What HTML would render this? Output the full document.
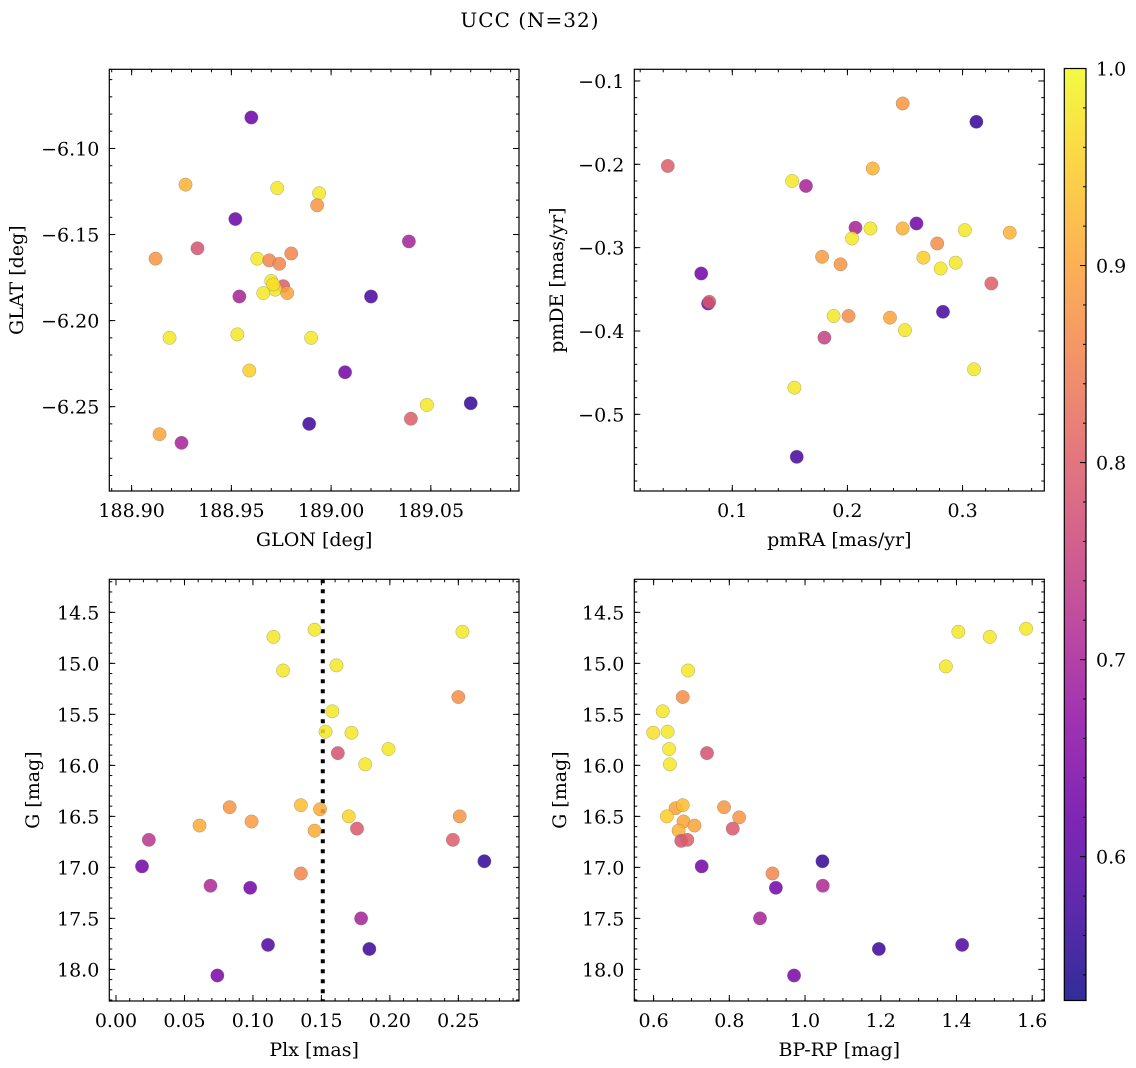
<!DOCTYPE html>
<html><head><meta charset="utf-8">
<style>
html,body{margin:0;padding:0;background:#fff;}
svg{display:block;font-family:"DejaVu Serif","Liberation Serif",serif;}
</style></head>
<body>
<svg id="fig" width="1136" height="1068" viewBox="0 0 1136 1068" xmlns="http://www.w3.org/2000/svg">
<text x="530" y="27" font-size="20" letter-spacing="1" text-anchor="middle">UCC (N=32)</text>
</svg>
<script>
// ---- data ----
const glon = [188.960,188.927,188.973,188.994,188.993,188.952,189.039,188.933,188.912,188.963,188.969,188.974,188.980,188.970,188.976,188.972,188.966,188.978,188.954,189.020,188.919,188.953,188.990,188.959,189.007,189.048,189.070,189.040,188.989,188.914,188.925,188.971];
const glat = [-6.082,-6.121,-6.123,-6.126,-6.133,-6.141,-6.154,-6.158,-6.164,-6.164,-6.165,-6.167,-6.161,-6.177,-6.180,-6.182,-6.184,-6.184,-6.186,-6.186,-6.210,-6.208,-6.210,-6.229,-6.230,-6.249,-6.248,-6.257,-6.260,-6.266,-6.271,-6.179];
const glonProb = [0.62,0.92,0.98,0.98,0.88,0.62,0.70,0.78,0.88,0.98,0.86,0.86,0.86,0.98,0.80,0.98,0.98,0.90,0.70,0.58,0.98,0.98,0.98,0.95,0.63,0.98,0.56,0.80,0.57,0.90,0.70,0.97];

const pmra = [0.044,0.152,0.164,0.222,0.248,0.312,0.207,0.220,0.204,0.248,0.260,0.302,0.341,0.278,0.266,0.281,0.294,0.178,0.194,0.073,0.079,0.080,0.188,0.201,0.237,0.250,0.283,0.180,0.310,0.154,0.325,0.156];
const pmde = [-0.202,-0.220,-0.226,-0.205,-0.127,-0.149,-0.276,-0.277,-0.289,-0.277,-0.271,-0.279,-0.282,-0.295,-0.312,-0.325,-0.318,-0.311,-0.320,-0.331,-0.367,-0.365,-0.382,-0.382,-0.384,-0.399,-0.377,-0.408,-0.446,-0.468,-0.343,-0.551];
const pmProb = [0.80,0.98,0.70,0.92,0.88,0.56,0.70,0.98,0.98,0.92,0.63,0.98,0.92,0.87,0.95,0.98,0.98,0.89,0.88,0.63,0.62,0.79,0.98,0.87,0.90,0.98,0.58,0.75,0.98,0.98,0.80,0.58];

const plx = [0.115,0.145,0.122,0.161,0.253,0.250,0.158,0.153,0.172,0.199,0.162,0.182,0.083,0.135,0.149,0.170,0.251,0.061,0.099,0.145,0.176,0.024,0.246,0.019,0.269,0.135,0.069,0.098,0.179,0.111,0.185,0.074];
const gPlx = [14.74,14.67,15.07,15.02,14.69,15.33,15.47,15.67,15.68,15.84,15.88,15.99,16.41,16.39,16.43,16.50,16.50,16.59,16.55,16.64,16.62,16.73,16.73,16.99,16.94,17.06,17.18,17.20,17.50,17.76,17.80,18.06];
const plxProb = [0.98,0.98,0.98,0.98,0.98,0.87,0.98,0.98,0.98,0.98,0.78,0.98,0.88,0.93,0.91,0.96,0.88,0.91,0.89,0.91,0.79,0.73,0.80,0.63,0.56,0.86,0.71,0.63,0.70,0.59,0.57,0.64];
const plxLine = [0.151];

const bprp = [1.584,1.405,1.488,1.372,0.691,0.677,0.624,0.599,0.637,0.641,0.741,0.643,0.658,0.677,0.786,0.635,0.826,0.679,0.708,0.666,0.809,0.673,0.689,0.727,1.046,0.914,0.923,1.047,0.881,1.415,1.195,0.971];
const gCmd = [14.66,14.69,14.74,15.03,15.07,15.33,15.47,15.68,15.67,15.84,15.88,15.99,16.42,16.39,16.41,16.50,16.51,16.55,16.59,16.64,16.62,16.74,16.73,16.99,16.94,17.06,17.20,17.18,17.50,17.76,17.80,18.06];
const cmdProb = [0.98,0.98,0.98,0.98,0.98,0.87,0.98,0.97,0.98,0.98,0.78,0.98,0.90,0.93,0.88,0.95,0.88,0.90,0.90,0.92,0.79,0.78,0.80,0.63,0.56,0.86,0.63,0.71,0.70,0.59,0.57,0.64];

const cbTicks = [0.6,0.7,0.8,0.9,1.0];
const cbRange = [0.527,1.0];

// ---- helpers ----
const NS = "http://www.w3.org/2000/svg";
const svg = document.getElementById('fig');
const FS = 19;
function mk(tag, attrs, parent){
  const e = document.createElementNS(NS, tag);
  for (const k in attrs) e.setAttribute(k, attrs[k]);
  (parent||svg).appendChild(e);
  return e;
}
const plasma = [[13,8,135],[65,4,157],[106,0,168],[143,13,164],[177,42,144],[204,71,120],[225,100,98],[242,132,75],[252,166,54],[252,206,37],[240,249,33]];
function cmap(t){
  t=Math.max(0,Math.min(1,t));
  const p=t*10, i=Math.min(9,Math.floor(p)), f=p-i;
  const a=plasma[i], b=plasma[i+1];
  return 'rgb('+a.map((v,k)=>Math.round(v+(b[k]-v)*f)).join(',')+')';
}
function norm(v){return (v-cbRange[0])/(cbRange[1]-cbRange[0]);}
function fmt(v,d){const s=Math.abs(v).toFixed(d);return (v<0?'\u2212':'')+s;}

function panel(o){
  const {L,R,T,B,xlim,ylim,yinv,name}=o;
  const g = mk('g',{});
  
  
  const sx=v=>L+(v-xlim[0])/(xlim[1]-xlim[0])*(R-L);
  const sy=yinv? (v=>T+(v-ylim[0])/(ylim[1]-ylim[0])*(B-T)) : (v=>B-(v-ylim[0])/(ylim[1]-ylim[0])*(B-T));
  const tg = mk('g',{stroke:'#000','stroke-width':1},g);
  function ticksX(step,len){
    const s=Math.ceil((xlim[0]-1e-9)/step);
    for(let k=s;k*step<=xlim[1]+1e-9;k++){
      const x=sx(k*step);
      mk('line',{x1:x,x2:x,y1:B,y2:B-len},tg);
      mk('line',{x1:x,x2:x,y1:T,y2:T+len},tg);
    }
  }
  function ticksY(step,len){
    const lo=Math.min(ylim[0],ylim[1]), hi=Math.max(ylim[0],ylim[1]);
    const s=Math.ceil((lo-1e-9)/step);
    for(let k=s;k*step<=hi+1e-9;k++){
      const y=sy(k*step);
      mk('line',{x1:L,x2:L+len,y1:y,y2:y},tg);
      mk('line',{x1:R,x2:R-len,y1:y,y2:y},tg);
    }
  }
  ticksX(o.xminor,3); ticksY(o.yminor,3);
  ticksX(o.xmajor,6); ticksY(o.ymajor,6);
  o.xlabels.forEach(v=>{
    const t=mk('text',{x:sx(v),y:B+26,'font-size':FS,'text-anchor':'middle'},g);
    t.textContent=fmt(v,o.xdec);
    
    
  });
  o.ylabels.forEach(v=>{
    const t=mk('text',{x:L-10,y:sy(v)+7,'font-size':FS,'text-anchor':'end'},g);
    t.textContent=fmt(v,o.ydec);
    
    
  });
  const xt=mk('text',{x:(L+R)/2,y:B+55,'font-size':FS,'text-anchor':'middle'},g);
  xt.textContent=o.xtitle;
  
  
  const yt=mk('text',{x:0,y:0,'font-size':FS,'text-anchor':'middle',transform:`translate(${o.ytx},${(T+B)/2}) rotate(-90)`},g);
  yt.textContent=o.ytitle;
  
  
  if(o.vline){
    o.vline.forEach(v=>{
      const ln=mk('line',{x1:sx(v),x2:sx(v),y1:T,y2:B,stroke:'#000','stroke-width':4,'stroke-dasharray':'4 6'},g);
      
      
    });
  }
  o.xs.forEach((xv,i)=>{
    const c=mk('circle',{cx:sx(xv),cy:sy(o.ys[i]),r:6.7,fill:cmap(norm(o.cs[i])),'fill-opacity':0.85,stroke:'#777','stroke-width':0.5,'stroke-opacity':0.6},g);
    
    
  });
  const fr=mk('rect',{x:L,y:T,width:R-L,height:B-T,fill:'none',stroke:'#000','stroke-width':1.2},g);
  
  
}

panel({name:'glon-glat-panel',L:109.3,R:519,T:69.3,B:491,xlim:[188.8888,189.0942],ylim:[-6.299,-6.054],
  xmajor:0.05,xminor:0.01,ymajor:0.05,yminor:0.01,xlabels:[188.90,188.95,189.00,189.05],xdec:2,
  ylabels:[-6.10,-6.15,-6.20,-6.25],ydec:2,xtitle:'GLON [deg]',ytitle:'GLAT [deg]',ytx:23,
  xs:glon,ys:glat,cs:glonProb});
panel({name:'pm-panel',L:634.3,R:1044.3,T:69.3,B:491,xlim:[0.0149,0.371],ylim:[-0.592,-0.086],
  xmajor:0.1,xminor:0.02,ymajor:0.1,yminor:0.02,xlabels:[0.1,0.2,0.3],xdec:1,
  ylabels:[-0.1,-0.2,-0.3,-0.4,-0.5],ydec:1,xtitle:'pmRA [mas/yr]',ytitle:'pmDE [mas/yr]',ytx:563,
  xs:pmra,ys:pmde,cs:pmProb});
panel({name:'plx-g-panel',L:109.3,R:519,T:579.3,B:1001,xlim:[-0.0049,0.2943],ylim:[14.176,18.31],yinv:true,
  xmajor:0.05,xminor:0.01,ymajor:0.5,yminor:0.1,xlabels:[0,0.05,0.10,0.15,0.20,0.25],xdec:2,
  ylabels:[14.5,15.0,15.5,16.0,16.5,17.0,17.5,18.0],ydec:1,xtitle:'Plx [mas]',ytitle:'G [mag]',ytx:39,
  xs:plx,ys:gPlx,cs:plxProb,vline:plxLine});
panel({name:'cmd-panel',L:634.3,R:1044.3,T:579.3,B:1001,xlim:[0.549,1.632],ylim:[14.176,18.31],yinv:true,
  xmajor:0.2,xminor:0.05,ymajor:0.5,yminor:0.1,xlabels:[0.6,0.8,1.0,1.2,1.4,1.6],xdec:1,
  ylabels:[14.5,15.0,15.5,16.0,16.5,17.0,17.5,18.0],ydec:1,xtitle:'BP-RP [mag]',ytitle:'G [mag]',ytx:566,
  xs:bprp,ys:gCmd,cs:cmdProb});

(function(){
  const L=1064.3,R=1086,T=68.5,B=1000.5;
  const g=mk('g',{});
  
  
  const defs=mk('defs',{},g);
  const lg=mk('linearGradient',{id:'cbg',x1:0,y1:1,x2:0,y2:0},defs);
  for(let k=0;k<=20;k++){
    mk('stop',{offset:k/20,'stop-color':cmap(k/20),'stop-opacity':0.85},lg);
  }
  mk('rect',{x:L,y:T,width:R-L,height:B-T,fill:'url(#cbg)'},g);
  const sy=v=>B-(v-cbRange[0])/(cbRange[1]-cbRange[0])*(B-T);
  for(let k=Math.ceil(cbRange[0]/0.02);k*0.02<=cbRange[1]+1e-9;k++){
    const y=sy(k*0.02);
    mk('line',{x1:R,x2:R-3,y1:y,y2:y,stroke:'#000'},g);
  }
  cbTicks.forEach(v=>{
    const y=sy(v);
    mk('line',{x1:R,x2:R-6,y1:y,y2:y,stroke:'#000'},g);
    const t=mk('text',{x:R+10,y:y+7,'font-size':FS},g);
    t.textContent=v.toFixed(1);
    
    
  });
  mk('rect',{x:L,y:T,width:R-L,height:B-T,fill:'none',stroke:'#000','stroke-width':1.2},g);
})();
</script>
</body></html>
